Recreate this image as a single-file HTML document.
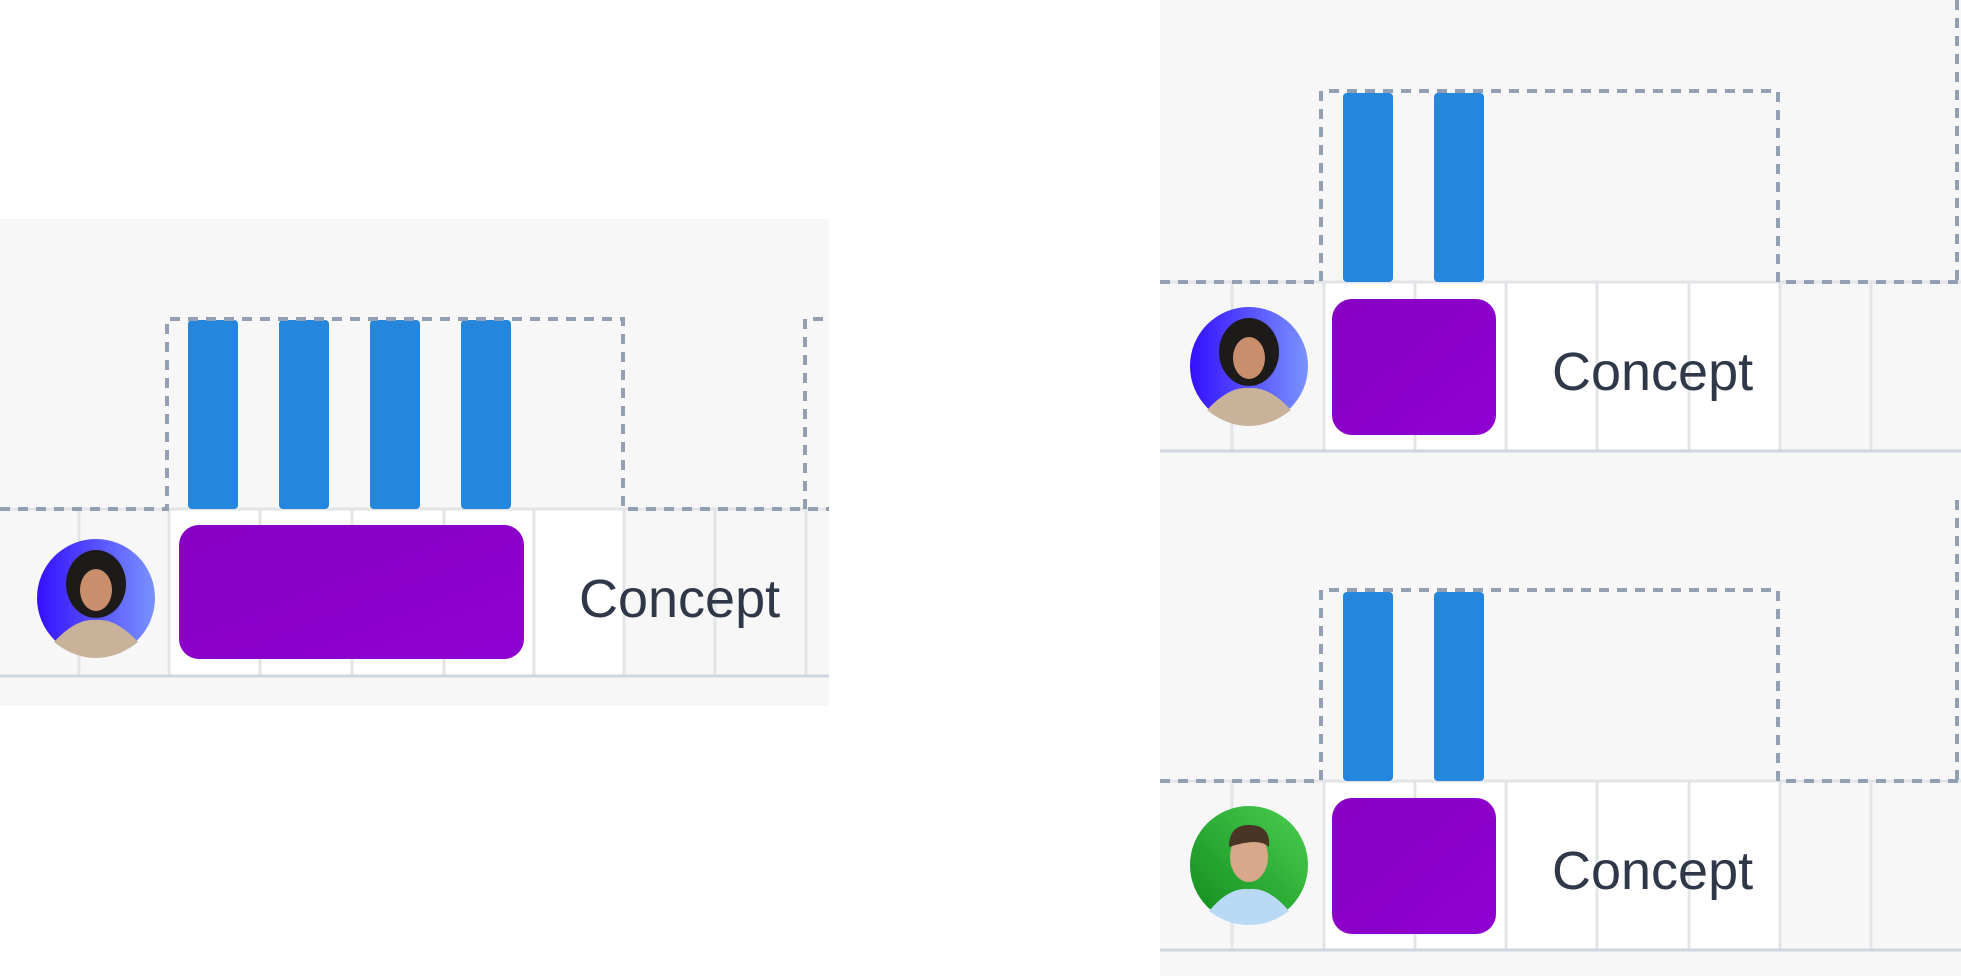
<!DOCTYPE html>
<html><head><meta charset="utf-8"><style>
html,body{margin:0;padding:0;background:#fff;width:1961px;height:976px;overflow:hidden}
svg{display:block}
text{font-family:"Liberation Sans",sans-serif;font-size:54px;fill:#2f3848}
</style></head><body>
<svg width="1961" height="976" viewBox="0 0 1961 976" xmlns="http://www.w3.org/2000/svg">
<defs>
<linearGradient id="pur" x1="0" y1="0" x2="1" y2="1"><stop offset="0" stop-color="#8800c4"/><stop offset="1" stop-color="#8f00d0"/></linearGradient>
<linearGradient id="blueav" x1="0" y1="0" x2="1" y2="0"><stop offset="0" stop-color="#3410ff"/><stop offset="1" stop-color="#7a92ff"/></linearGradient>
<linearGradient id="greenav" x1="0" y1="1" x2="1" y2="0"><stop offset="0" stop-color="#0f8a1c"/><stop offset="1" stop-color="#4ccf50"/></linearGradient>
<g id="woman">
<circle r="59" fill="url(#blueav)"/>
<ellipse cx="0" cy="-14" rx="30" ry="34" fill="#1d1a1a"/>
<ellipse cx="0" cy="-8" rx="16" ry="21" fill="#c98f6c"/>
<path d="M-42 44 Q-20 20 0 22 Q20 20 42 44 Q22 60 0 60 Q-22 60 -42 44Z" fill="#c8b39a"/>
</g>
<g id="man">
<circle r="59" fill="url(#greenav)"/>
<ellipse cx="0" cy="-8" rx="19" ry="25" fill="#d9a88a"/>
<path d="M-20 -18 Q-20 -40 0 -40 Q22 -40 20 -18 Q10 -28 -20 -18Z" fill="#4a3426"/>
<path d="M-40 46 Q-20 22 0 24 Q20 22 40 46 Q22 60 0 60 Q-22 60 -40 46Z" fill="#b9d9f5"/>
</g>
</defs>

<!-- LEFT PANEL -->
<rect x="0" y="219" width="829" height="487" fill="#f7f7f7"/>
<rect x="169" y="509" width="455" height="167" fill="#fff"/>
<g stroke="#e2e4e8" stroke-width="3">
<line x1="79" y1="509" x2="79" y2="676"/><line x1="169" y1="509" x2="169" y2="676"/>
<line x1="260" y1="509" x2="260" y2="676"/><line x1="352" y1="509" x2="352" y2="676"/>
<line x1="444" y1="509" x2="444" y2="676"/><line x1="534" y1="509" x2="534" y2="676"/>
<line x1="624" y1="509" x2="624" y2="676"/><line x1="715" y1="509" x2="715" y2="676"/>
<line x1="806" y1="509" x2="806" y2="676"/>
<line x1="0" y1="509" x2="829" y2="509"/>
</g>
<line x1="0" y1="676" x2="829" y2="676" stroke="#cfd6e0" stroke-width="3"/>
<g fill="#2487dd">
<rect x="188" y="320" width="50" height="189" rx="4"/><rect x="279" y="320" width="50" height="189" rx="4"/>
<rect x="370" y="320" width="50" height="189" rx="4"/><rect x="461" y="320" width="50" height="189" rx="4"/>
</g>
<g fill="none" stroke="#939fb2" stroke-width="4" stroke-dasharray="10 8">
<path d="M0 509 H167 V319 H623 V509 H829"/>
<path d="M805 509 V319 H829"/>
</g>
<rect x="179" y="525" width="345" height="134" rx="20" fill="url(#pur)"/>
<use href="#woman" x="96" y="598"/>
<text x="579" y="617">Concept</text>

<!-- RIGHT PANEL -->
<rect x="1160" y="0" width="801" height="976" fill="#f7f7f7"/>
<!-- top row -->
<rect x="1324" y="282" width="456" height="169" fill="#fff"/>
<g stroke="#e2e4e8" stroke-width="3">
<line x1="1232" y1="282" x2="1232" y2="451"/><line x1="1324" y1="282" x2="1324" y2="451"/>
<line x1="1415" y1="282" x2="1415" y2="451"/><line x1="1506" y1="282" x2="1506" y2="451"/>
<line x1="1597" y1="282" x2="1597" y2="451"/><line x1="1689" y1="282" x2="1689" y2="451"/>
<line x1="1780" y1="282" x2="1780" y2="451"/><line x1="1871" y1="282" x2="1871" y2="451"/>
<line x1="1160" y1="282" x2="1961" y2="282"/>
</g>
<line x1="1160" y1="451" x2="1961" y2="451" stroke="#cfd6e0" stroke-width="3"/>
<g fill="#2487dd"><rect x="1343" y="93" width="50" height="189" rx="4"/><rect x="1434" y="93" width="50" height="189" rx="4"/></g>
<g fill="none" stroke="#939fb2" stroke-width="4" stroke-dasharray="10 8">
<path d="M1160 282 H1321 V91 H1778 V282 H1961"/>
<path d="M1957 0 V282"/>
</g>
<rect x="1332" y="299" width="164" height="136" rx="20" fill="url(#pur)"/>
<use href="#woman" x="1249" y="366"/>
<text x="1552" y="390">Concept</text>

<!-- bottom row -->
<rect x="1324" y="781" width="456" height="169" fill="#fff"/>
<g stroke="#e2e4e8" stroke-width="3">
<line x1="1232" y1="781" x2="1232" y2="950"/><line x1="1324" y1="781" x2="1324" y2="950"/>
<line x1="1415" y1="781" x2="1415" y2="950"/><line x1="1506" y1="781" x2="1506" y2="950"/>
<line x1="1597" y1="781" x2="1597" y2="950"/><line x1="1689" y1="781" x2="1689" y2="950"/>
<line x1="1780" y1="781" x2="1780" y2="950"/><line x1="1871" y1="781" x2="1871" y2="950"/>
<line x1="1160" y1="781" x2="1961" y2="781"/>
</g>
<line x1="1160" y1="950" x2="1961" y2="950" stroke="#cfd6e0" stroke-width="3"/>
<g fill="#2487dd"><rect x="1343" y="592" width="50" height="189" rx="4"/><rect x="1434" y="592" width="50" height="189" rx="4"/></g>
<g fill="none" stroke="#939fb2" stroke-width="4" stroke-dasharray="10 8">
<path d="M1160 781 H1321 V590 H1778 V781 H1961"/>
<path d="M1957 500 V781"/>
</g>
<rect x="1332" y="798" width="164" height="136" rx="20" fill="url(#pur)"/>
<use href="#man" x="1249" y="865"/>
<text x="1552" y="889">Concept</text>
</svg>
</body></html>
